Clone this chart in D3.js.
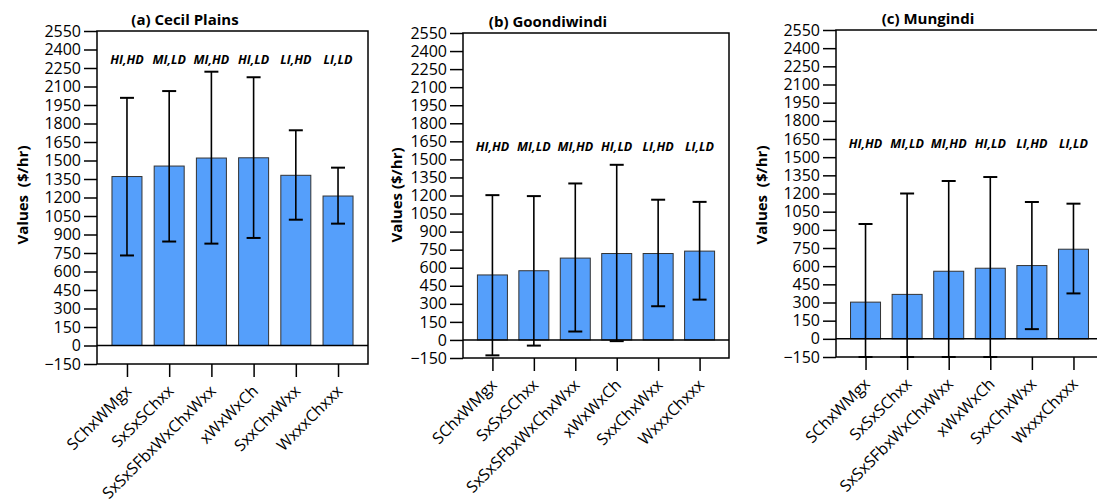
<!DOCTYPE html>
<html lang="en">
<head>
    <meta charset="UTF-8">
    <title>Values by rotation</title>
    <script src="https://cdnjs.cloudflare.com/ajax/libs/d3/7.8.5/d3.min.js"></script>
    <style>
        body { margin: 0; background: #fff; }
        svg { display: block; font-family: "Open Sans", sans-serif; }
        .ylab { white-space: pre; }
    </style>
</head>
<body>
<svg id="chart" width="1097" height="503"></svg>
<script>
    const categories = ["SChxWMgx", "SxSxSChxx", "SxSxSFbxWxChxWxx", "xWxWxCh", "SxxChxWxx", "WxxxChxxx"];
    const treatments = ["HI,HD", "MI,LD", "MI,HD", "HI,LD", "LI,HD", "LI,LD"];
    const yTicks = d3.range(-150, 2551, 150);

    const cecilMean = [1370, 1455, 1520, 1522, 1380, 1212];
    const cecilUpper = [2008, 2063, 2220, 2175, 1745, 1442];
    const cecilLower = [730, 843, 826, 872, 1020, 988];

    const goondiMean = [540, 575, 680, 718, 718, 738];
    const goondiUpper = [1203, 1195, 1300, 1455, 1165, 1147];
    const goondiLower = [-128, -47, 70, -10, 280, 335];

    const mungMean = [303, 367, 558, 583, 605, 740];
    const mungUpper = [948, 1200, 1303, 1336, 1130, 1116];
    const mungLower = [-150, -150, -150, -150, 80, 375];

    const panels = [
        { id: "a", title: "(a) Cecil Plains", yLabel: "Values  ($/hr)", mean: cecilMean, upper: cecilUpper, lower: cecilLower,
          left: 97, right: 368, top: 31, bottom: 364, titleX: 185, labelX: 28, annotAt: 2280 },
        { id: "b", title: "(b) Goondiwindi", yLabel: "Values ($/hr)", mean: goondiMean, upper: goondiUpper, lower: goondiLower,
          left: 463, right: 729, top: 33, bottom: 358, titleX: 548, labelX: 402, annotAt: 1570 },
        { id: "c", title: "(c) Mungindi", yLabel: "Values  ($/hr)", mean: mungMean, upper: mungUpper, lower: mungLower,
          left: 836, right: 1103, top: 30, bottom: 357, titleX: 928, labelX: 767, annotAt: 1575 }
    ];

    const svg = d3.select("#chart");

    panels.forEach(p => {
        const x = d3.scalePoint().domain(categories).range([p.left, p.right]).padding(0.71);
        const y = d3.scaleLinear().domain([-150, 2550]).range([p.bottom, p.top]);
        const rows = categories.map((c, i) => ({ cat: c, mean: p.mean[i], hi: p.upper[i], lo: p.lower[i], tr: treatments[i] }));

        const g = svg.append("g").attr("class", "panel-" + p.id);

        svg.append("clipPath").attr("id", "clip-" + p.id)
            .append("rect")
            .attr("x", p.left).attr("y", p.top - 2)
            .attr("width", p.right - p.left).attr("height", p.bottom - p.top + 3);

        // y axis
        const ya = g.append("g")
            .attr("transform", `translate(${p.left},0)`)
            .call(d3.axisLeft(y).tickValues(yTicks).tickFormat(d3.format("d")).tickSize(13).tickPadding(3));
        ya.select(".domain").remove();
        ya.selectAll("line").attr("stroke", "#000").attr("stroke-width", 1.5);
        ya.selectAll("text").attr("font-size", 16).attr("fill", "#000").attr("font-family", "Open Sans");

        // x axis
        const xa = g.append("g")
            .attr("transform", `translate(0,${p.bottom})`)
            .call(d3.axisBottom(x).tickSize(13));
        xa.select(".domain").remove();
        xa.selectAll("line").attr("stroke", "#000").attr("stroke-width", 1.5);
        xa.selectAll("text")
            .attr("x", null).attr("y", null).attr("dy", null)
            .attr("transform", "translate(5,28) rotate(-45)")
            .attr("text-anchor", "end")
            .attr("font-size", 16).attr("fill", "#000").attr("font-family", "Open Sans");

        // bars
        g.append("g").selectAll("rect")
            .data(rows).enter().append("rect")
            .attr("x", d => x(d.cat) - 15)
            .attr("width", 30)
            .attr("y", d => y(d.mean))
            .attr("height", d => y(0) - y(d.mean))
            .attr("fill", "#559ffb")
            .attr("stroke", "#333")
            .attr("stroke-width", 1);

        // zero line
        g.append("line")
            .attr("x1", p.left).attr("x2", p.right)
            .attr("y1", y(0)).attr("y2", y(0))
            .attr("stroke", "#000").attr("stroke-width", 1.5);

        // error bars
        const eb = g.append("g").attr("clip-path", `url(#clip-${p.id})`)
            .selectAll("g").data(rows).enter().append("g");
        eb.append("line")
            .attr("x1", d => x(d.cat)).attr("x2", d => x(d.cat))
            .attr("y1", d => y(d.lo)).attr("y2", d => y(d.hi))
            .attr("stroke", "#000").attr("stroke-width", 1.6);
        eb.append("line")
            .attr("x1", d => x(d.cat) - 7).attr("x2", d => x(d.cat) + 7)
            .attr("y1", d => y(d.hi)).attr("y2", d => y(d.hi))
            .attr("stroke", "#000").attr("stroke-width", 2);
        eb.append("line")
            .attr("x1", d => x(d.cat) - 7).attr("x2", d => x(d.cat) + 7)
            .attr("y1", d => y(d.lo)).attr("y2", d => y(d.lo))
            .attr("stroke", "#000").attr("stroke-width", 2);

        // frame
        g.append("rect")
            .attr("x", p.left).attr("y", p.top)
            .attr("width", p.right - p.left).attr("height", p.bottom - p.top)
            .attr("fill", "none").attr("stroke", "#000").attr("stroke-width", 1.5);

        // treatment labels
        g.append("g").selectAll("text")
            .data(rows).enter().append("text")
            .attr("x", d => x(d.cat))
            .attr("y", y(p.annotAt))
            .attr("text-anchor", "middle")
            .attr("font-size", 12.5).attr("font-weight", "bold").attr("font-style", "italic")
            .text(d => d.tr);

        // title
        g.append("text")
            .attr("x", p.titleX).attr("y", p.top - 6)
            .attr("text-anchor", "middle")
            .attr("font-size", 15).attr("font-weight", "bold")
            .text(p.title);

        // y label
        g.append("text")
            .attr("class", "ylab")
            .attr("transform", `translate(${p.labelX},195) rotate(-90)`)
            .attr("text-anchor", "middle")
            .attr("font-size", 15).attr("font-weight", "bold")
            .text(p.yLabel);
    });
</script>
</body>
</html>
